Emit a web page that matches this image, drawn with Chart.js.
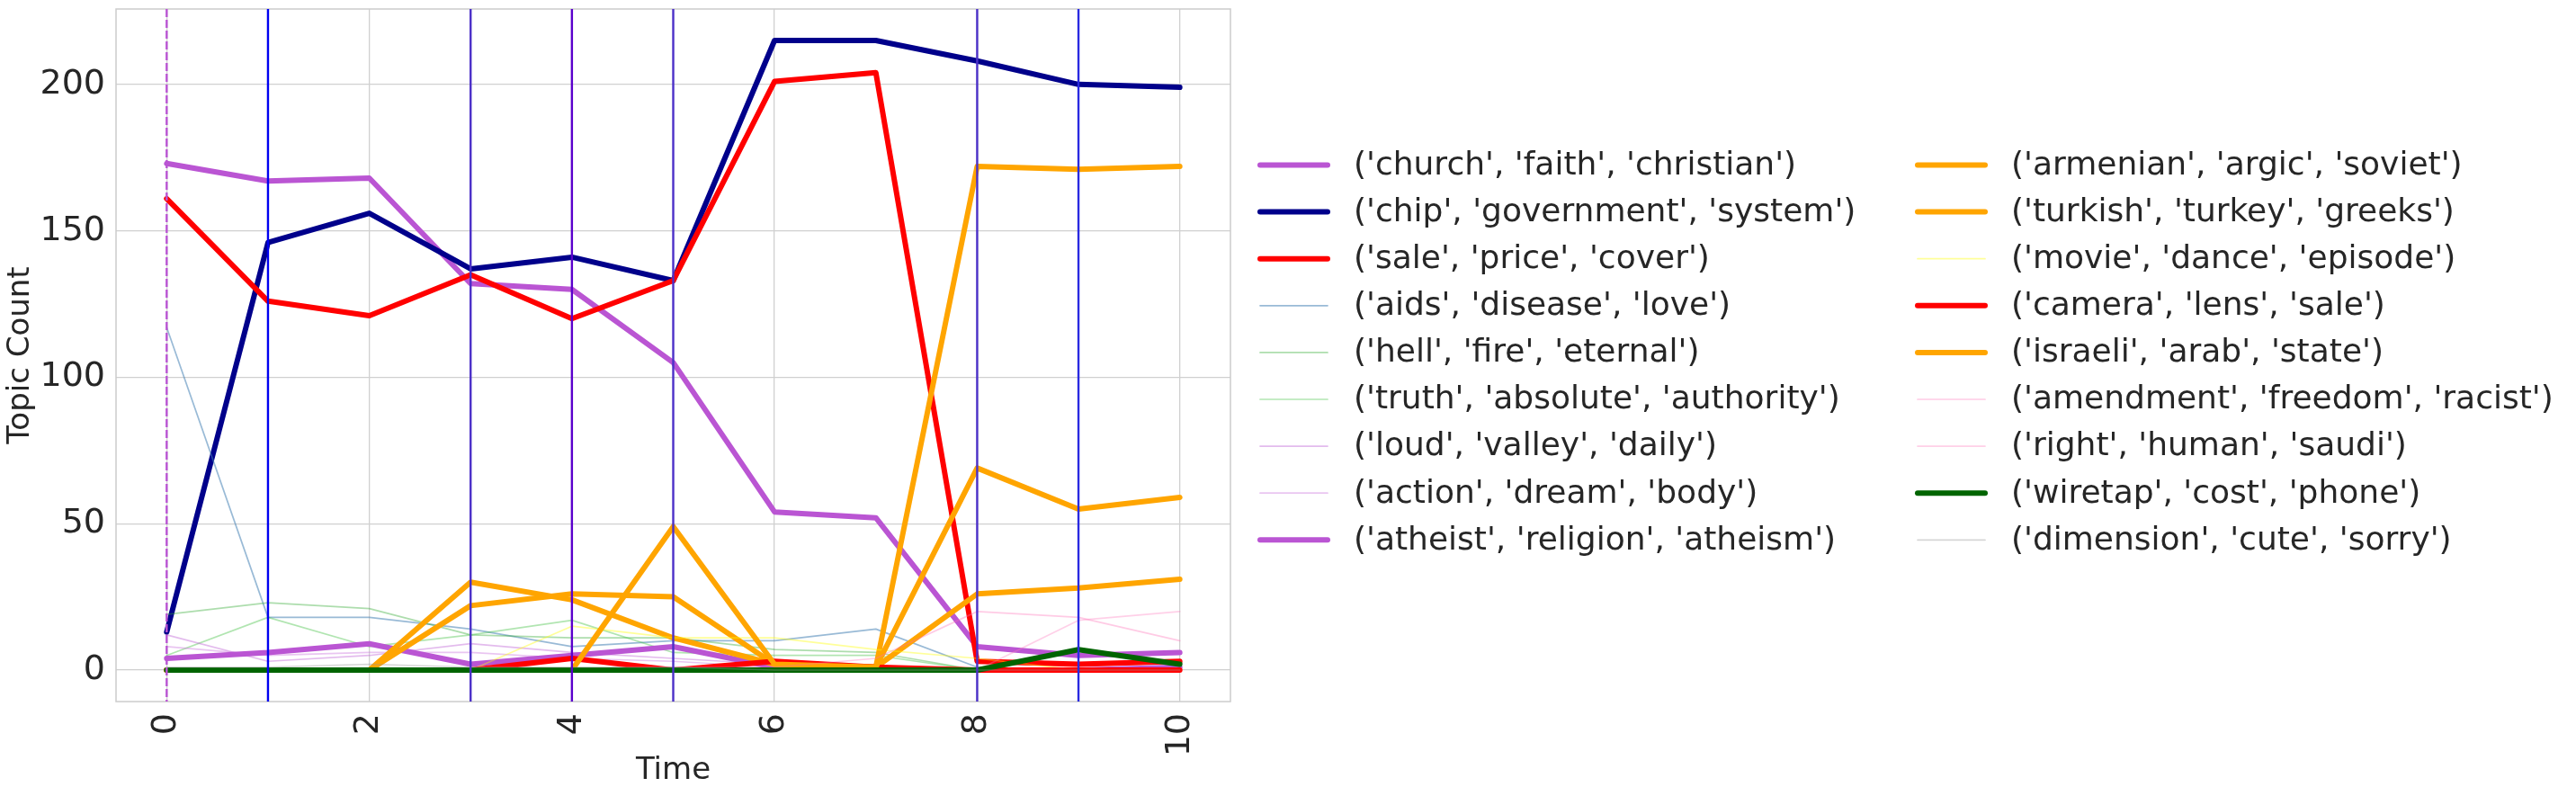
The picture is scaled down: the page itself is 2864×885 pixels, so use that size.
<!DOCTYPE html>
<html>
<head>
<meta charset="utf-8">
<title>Topic Count over Time</title>
<script src="https://cdn.jsdelivr.net/npm/chart.js@4.4.1/dist/chart.umd.min.js"></script>
<style>
  html, body { margin: 0; padding: 0; background: #ffffff; }
  #topicChart { display: block; }
</style>
</head>
<body>
<canvas id="topicChart" width="2864" height="885"></canvas>
<script>
// time steps and tick labels
const timePoints = [0, 1, 2, 3, 4, 5, 6, 7, 8, 9, 10];
const xTickValues = [0, 2, 4, 6, 8, 10];
const yTickValues = [0, 50, 100, 150, 200];
const markerTimes = [0, 1, 3, 4, 5, 8, 9];

const topicLabels = [
    "('church', 'faith', 'christian')",
    "('chip', 'government', 'system')",
    "('sale', 'price', 'cover')",
    "('aids', 'disease', 'love')",
    "('hell', 'fire', 'eternal')",
    "('truth', 'absolute', 'authority')",
    "('loud', 'valley', 'daily')",
    "('action', 'dream', 'body')",
    "('atheist', 'religion', 'atheism')",
    "('armenian', 'argic', 'soviet')",
    "('turkish', 'turkey', 'greeks')",
    "('movie', 'dance', 'episode')",
    "('camera', 'lens', 'sale')",
    "('israeli', 'arab', 'state')",
    "('amendment', 'freedom', 'racist')",
    "('right', 'human', 'saudi')",
    "('wiretap', 'cost', 'phone')",
    "('dimension', 'cute', 'sorry')"
];

// topic counts per time step
const churchCounts = [173, 167, 168, 132, 130, 105, 54, 52, 8, 5, 6];
const chipCounts = [13, 146, 156, 137, 141, 133, 215, 215, 208, 200, 199];
const saleCounts = [161, 126, 121, 135, 120, 133, 201, 204, 3, 2, 3];
const aidsCounts = [117, 18, 18, 14, 8, 10, 10, 14, 1, 0, 0];
const hellCounts = [19, 23, 21, 12, 11, 11, 7, 6, 0, 0, 0];
const truthCounts = [5, 18, 8, 12, 17, 6, 5, 5, 0, 0, 0];
const loudCounts = [12, 3, 5, 9, 6, 4, 2, 1, 0, 0, 0];
const actionCounts = [8, 5, 6, 6, 4, 3, 1, 1, 0, 0, 0];
const atheistCounts = [4, 6, 9, 2, 5, 8, 1, 0, 0, 0, 1];
const armenianCounts = [0, 0, 0, 30, 24, 11, 2, 1, 172, 171, 172];
const turkishCounts = [0, 0, 0, 22, 26, 25, 2, 1, 26, 28, 31];
const movieCounts = [0, 0, 0, 0, 15, 11, 11, 7, 4, 0, 0];
const cameraCounts = [0, 0, 0, 0, 4, 0, 3, 1, 0, 0, 0];
const israeliCounts = [0, 0, 0, 0, 0, 49, 2, 1, 69, 55, 59];
const amendmentCounts = [0, 0, 0, 0, 0, 1, 1, 4, 20, 18, 10];
const rightCounts = [0, 0, 0, 0, 0, 0, 0, 0, 0, 17, 20];
const wiretapCounts = [0, 0, 0, 0, 0, 0, 0, 0, 0, 7, 2];
const dimensionCounts = [1, 1, 2, 1, 1, 1, 0, 0, 0, 0, 0];

const topicCounts = [
    churchCounts, chipCounts, saleCounts, aidsCounts, hellCounts, truthCounts,
    loudCounts, actionCounts, atheistCounts, armenianCounts, turkishCounts,
    movieCounts, cameraCounts, israeliCounts, amendmentCounts, rightCounts,
    wiretapCounts, dimensionCounts
];

// line styles
const topicColors = [
    '#ba55d3', '#00008b', '#ff0000',
    'rgba(70, 130, 180, 0.55)', 'rgba(50, 170, 50, 0.4)', 'rgba(60, 190, 60, 0.4)',
    'rgba(186, 85, 211, 0.4)', 'rgba(200, 110, 220, 0.4)', '#ba55d3',
    '#ffa500', '#ffa500', 'rgba(255, 255, 0, 0.4)',
    '#ff0000', '#ffa500', 'rgba(255, 105, 180, 0.35)',
    'rgba(255, 120, 190, 0.35)', '#006400', 'rgba(150, 150, 150, 0.4)'
];
const thickTopics = [0, 1, 2, 8, 9, 10, 12, 13, 16];
const markerColors = ['#ba55d3', '#0000f0', '#4b30c8', '#5a00cc', '#4b30c8', '#4b30c8', '#2a2ae0'];

const textColor = '#262626';
const gridColor = '#d0d0d0';

const datasets = topicLabels.map((label, i) => ({
    label: label,
    data: topicCounts[i],
    borderColor: topicColors[i],
    backgroundColor: topicColors[i],
    borderWidth: thickTopics.includes(i) ? 6 : 1.7,
    pointRadius: 0,
    pointHoverRadius: 0,
    tension: 0,
    fill: false,
    borderJoinStyle: 'round',
    borderCapStyle: 'round',
    order: 100 - i // later topics on top, like the original
}));

// axvlines, frame and two-column legend
const overlay = {
    id: 'overlay',
    beforeDatasetsDraw(chart) {
        const { ctx, chartArea: a } = chart;
        ctx.save();
        ctx.strokeStyle = '#cccccc';
        ctx.lineWidth = 1.5;
        ctx.strokeRect(a.left, a.top, a.right - a.left, a.bottom - a.top);
        ctx.restore();
    },
    afterDatasetsDraw(chart) {
        const { ctx, chartArea: a, scales: { x } } = chart;
        ctx.save();
        markerTimes.forEach((t, i) => {
            const px = x.getPixelForValue(t);
            ctx.strokeStyle = markerColors[i];
            ctx.lineWidth = 2.4;
            ctx.setLineDash(i === 0 ? [9, 3] : []);
            ctx.beginPath();
            ctx.moveTo(px, a.top);
            ctx.lineTo(px, a.bottom);
            ctx.stroke();
        });
        ctx.restore();
    },
    afterDraw(chart) {
        const ctx = chart.ctx;
        ctx.save();
        ctx.font = '36px "DejaVu Sans"';
        ctx.textBaseline = 'middle';
        ctx.textAlign = 'left';
        ctx.lineCap = 'round';
        chart.data.datasets.forEach((ds, i) => {
            const col = Math.floor(i / 9);
            const row = i % 9;
            const y = 183.5 + row * 52.1;
            const hx = col === 0 ? 1401 : 2132;
            ctx.strokeStyle = ds.borderColor;
            ctx.lineWidth = ds.borderWidth;
            ctx.beginPath();
            ctx.moveTo(hx, y);
            ctx.lineTo(hx + 75, y);
            ctx.stroke();
            ctx.fillStyle = textColor;
            ctx.fillText(ds.label, hx + 104, y + 1);
        });
        ctx.restore();
    }
};

const ctx = document.getElementById('topicChart').getContext('2d');
const chart = new Chart(ctx, {
    type: 'line',
    data: {
        labels: timePoints,
        datasets: datasets
    },
    plugins: [overlay],
    options: {
        responsive: false,
        animation: false,
        devicePixelRatio: 1,
        font: { family: '"DejaVu Sans"' },
        layout: { padding: { top: 10, right: 1496, left: 0, bottom: 0 } },
        plugins: {
            legend: { display: false },
            tooltip: { enabled: false }
        },
        scales: {
            x: {
                type: 'linear',
                min: -0.5,
                max: 10.5,
                afterBuildTicks: (scale) => { scale.ticks = xTickValues.map(v => ({ value: v })); },
                afterFit: (scale) => {
                    scale.height = 105;
                    scale.paddingLeft = 0;
                    scale.paddingRight = 0;
                },
                grid: { color: gridColor, lineWidth: 1.3, drawTicks: false },
                border: { display: false },
                ticks: {
                    autoSkip: false,
                    minRotation: 90,
                    maxRotation: 90,
                    padding: 13,
                    color: textColor,
                    font: { family: '"DejaVu Sans"', size: 38 }
                },
                title: {
                    display: true,
                    text: 'Time',
                    color: textColor,
                    font: { family: '"DejaVu Sans"', size: 34 },
                    padding: { top: 0, bottom: 7 }
                }
            },
            y: {
                min: -10.75,
                max: 225.75,
                afterBuildTicks: (scale) => { scale.ticks = yTickValues.map(v => ({ value: v })); },
                afterFit: (scale) => {
                    scale.width = 129;
                    scale.paddingTop = 0;
                    scale.paddingBottom = 0;
                },
                grid: { color: gridColor, lineWidth: 1.3, drawTicks: false },
                border: { display: false },
                ticks: {
                    padding: 12,
                    color: textColor,
                    font: { family: '"DejaVu Sans"', size: 38 }
                },
                title: {
                    display: true,
                    text: 'Topic Count',
                    color: textColor,
                    font: { family: '"DejaVu Sans"', size: 34 },
                    padding: { top: 3, bottom: 0 }
                }
            }
        }
    }
});
</script>
</body>
</html>
